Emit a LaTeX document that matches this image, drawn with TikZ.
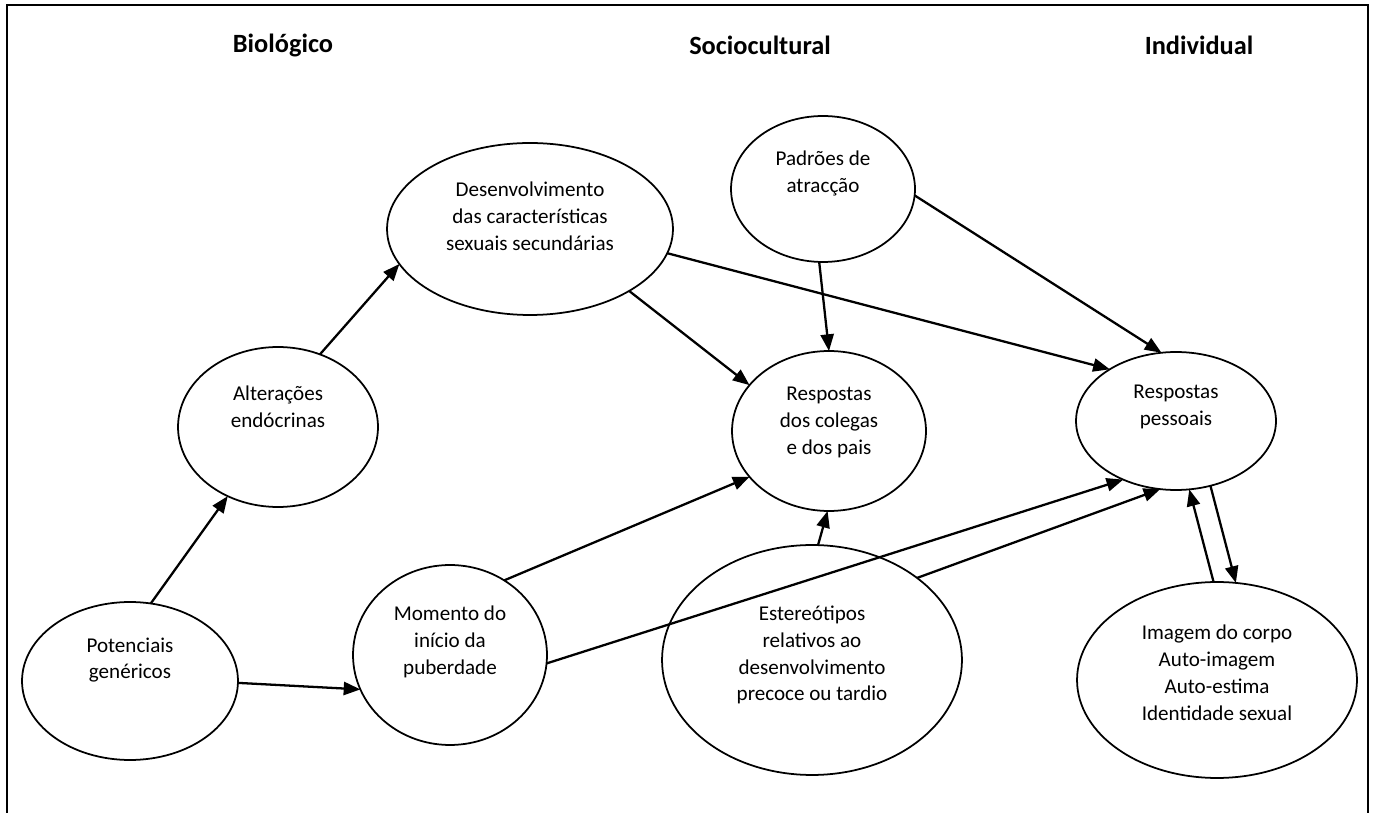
\documentclass[tikz,border=0pt]{standalone}
\usepackage{fontspec}
\setmainfont{Carlito}
\usetikzlibrary{shapes.geometric}
\usetikzlibrary{arrows.meta}

\tikzset{
  bubble/.style={draw, ellipse, line width=1pt, inner sep=0pt, outer sep=0pt},
  txt/.style={align=center, font=\fontsize{12}{15.3}\selectfont},
  head/.style={font=\fontsize{15}{18}\selectfont\bfseries},
  >={Triangle[length=9.5pt,width=7.5pt]}
}

\begin{document}
\begin{tikzpicture}[x=0.02cm, y=-0.02cm, line width=1.3pt]
    \useasboundingbox (0,0) rectangle (1376,813);
    \draw[line width=1.1pt] (7,813) -- (7,5) -- (1368,5) -- (1368,813);

    \node[head] (bio) at (283,45) {Biológico};
    \node[head] (soc) at (760,45) {Sociocultural};
    \node[head] (ind) at (1199,45) {Individual};

    \node[bubble, minimum width=4.32cm, minimum height=3.16cm,
      label={[txt, yshift=11.9pt]center:Potenciais\\genéricos}] (pot) at (130,681) {};
    \node[bubble, minimum width=4cm, minimum height=3.2cm,
      label={[txt, yshift=11.3pt]center:Alterações\\endócrinas}] (alt) at (278,427) {};
    \node[bubble, minimum width=5.72cm, minimum height=3.44cm,
      label={[txt, yshift=7.4pt]center:Desenvolvimento\\das características\\sexuais secundárias}] (des) at (530,229) {};
    \node[bubble, minimum width=3.88cm, minimum height=3.6cm,
      label={[txt, yshift=7.4pt]center:Momento do\\início da\\puberdade}] (mom) at (450,655) {};

    \node[bubble, minimum width=3.68cm, minimum height=2.92cm,
      label={[txt, yshift=9pt]center:Padrões de\\atracção}] (pad) at (823,189) {};
    \node[bubble, minimum width=3.88cm, minimum height=3.2cm,
      label={[txt, yshift=5pt]center:Respostas\\dos colegas\\e dos pais}] (col) at (829,431) {};
    \node[bubble, minimum width=6cm, minimum height=4.6cm,
      label={[txt, yshift=2.8pt]center:Estereótipos\\relativos ao\\desenvolvimento\\precoce ou tardio}] (est) at (812,660) {};

    \node[bubble, minimum width=4cm, minimum height=2.76cm,
      label={[txt, yshift=8pt]center:Respostas\\pessoais}] (pes) at (1176,421) {};
    \node[bubble, minimum width=5.6cm, minimum height=3.92cm,
      label={[txt, yshift=4pt]center:Imagem do corpo\\Auto-imagem\\Auto-estima\\Identidade sexual}] (img) at (1217,680) {};

    \draw[->] (pot.75.6) -- (alt.234.5);
    \draw[->] (alt.60.8) -- (des.195.8);
    \draw[->] (pot.359) -- (mom.201.7);
    \draw[->] (des.328) -- (col.150.8);
    \draw[->] (des.350) -- (pes.142.1);
    \draw[->] (pad.267.6) -- (col.90);
    \draw[->] (pad.356.4) -- (pes.102.7);
    \draw[->] (mom.54.6) -- (col.210.3);
    \draw[->] (mom.355) -- (pes.228.5);
    \draw[->] (est.87) -- (col.269.3);
    \draw[->] (est.38.7) -- (pes.257.3);
    \draw[->] (img.92.3) -- (pes.281.2);
    \draw[->] (pes.298.2) -- (img.79.8);
\end{tikzpicture}
\end{document}
